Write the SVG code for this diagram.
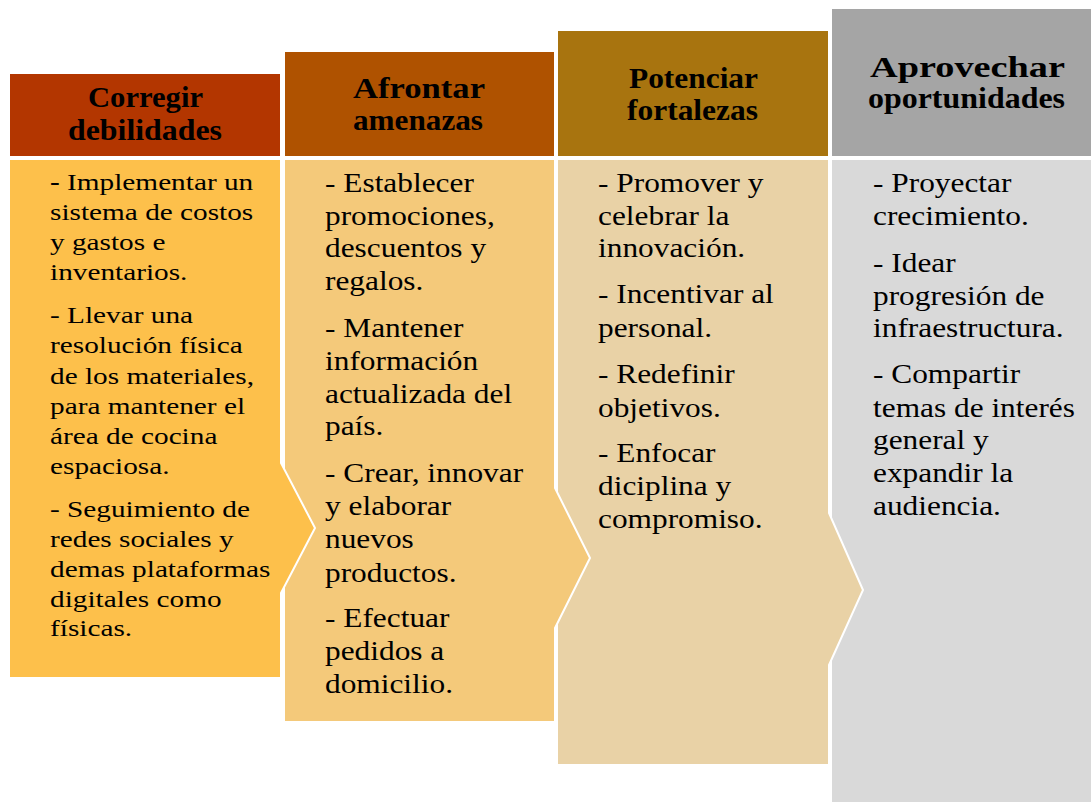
<svg xmlns="http://www.w3.org/2000/svg" width="1091" height="805" viewBox="0 0 1091 805">
<style>
.sh{stroke:#ffffff;stroke-width:2}
.hd{font-family:"Liberation Serif","Times New Roman",serif;font-weight:bold;font-size:30px;fill:#000}
.t1{font-family:"Liberation Serif","Times New Roman",serif;font-size:24px;fill:#000}
.t2{font-family:"Liberation Serif","Times New Roman",serif;font-size:28px;fill:#000}
</style>
<rect width="1091" height="805" fill="#ffffff"/>
<g id="col4">
<rect class="sh" x="831" y="8" width="272" height="149" fill="#A5A5A5"/>
<polygon class="sh" points="831,159 1103,159 1103,803 831,803" fill="#D9D9D9"/>
<text class="hd" x="870" y="77" textLength="195" lengthAdjust="spacingAndGlyphs">Aprovechar</text>
<text class="hd" x="868" y="108" textLength="197" lengthAdjust="spacingAndGlyphs">oportunidades</text>
</g>
<g id="col3">
<rect class="sh" x="557" y="30" width="272" height="127" fill="#A8740F"/>
<polygon class="sh" points="557,159 829,159 829,513 863,590 829,665 829,765 557,765" fill="#E9D2A6"/>
<text class="hd" x="629" y="88" textLength="129" lengthAdjust="spacingAndGlyphs">Potenciar</text>
<text class="hd" x="627" y="120" textLength="131" lengthAdjust="spacingAndGlyphs">fortalezas</text>
</g>
<g id="col2">
<rect class="sh" x="284" y="51" width="271" height="106" fill="#AF5200"/>
<polygon class="sh" points="284,159 555,159 555,488 590,558 555,628 555,722 284,722" fill="#F4C97A"/>
<text class="hd" x="353" y="98" textLength="132" lengthAdjust="spacingAndGlyphs">Afrontar</text>
<text class="hd" x="353" y="130" textLength="130" lengthAdjust="spacingAndGlyphs">amenazas</text>
</g>
<g id="col1">
<rect class="sh" x="9" y="73" width="272" height="84" fill="#B33600"/>
<polygon class="sh" points="9,159 281,159 281,463 315,528 281,593 281,678 9,678" fill="#FDC04B"/>
<text class="hd" x="88" y="107" textLength="115" lengthAdjust="spacingAndGlyphs">Corregir</text>
<text class="hd" x="68" y="140" textLength="154" lengthAdjust="spacingAndGlyphs">debilidades</text>
</g>
<g id="text1" transform="translate(50,0) scale(1.22,1)">
<text class="t1" x="0" y="190"><tspan font-weight="bold">-</tspan> Implementar un</text>
<text class="t1" x="0" y="220">sistema de costos</text>
<text class="t1" x="0" y="250">y gastos e</text>
<text class="t1" x="0" y="280">inventarios.</text>
<text class="t1" x="0" y="323">- Llevar una</text>
<text class="t1" x="0" y="353">resolución física</text>
<text class="t1" x="0" y="384">de los materiales,</text>
<text class="t1" x="0" y="414">para mantener el</text>
<text class="t1" x="0" y="444">área de cocina</text>
<text class="t1" x="0" y="474">espaciosa.</text>
<text class="t1" x="0" y="517">- Seguimiento de</text>
<text class="t1" x="0" y="547">redes sociales y</text>
<text class="t1" x="0" y="577">demas plataformas</text>
<text class="t1" x="0" y="607">digitales como</text>
<text class="t1" x="0" y="636">físicas.</text>
</g>
<g id="text2" transform="translate(325,0) scale(1.12,1)">
<text class="t2" x="0" y="192">- Establecer</text>
<text class="t2" x="0" y="225">promociones,</text>
<text class="t2" x="0" y="257">descuentos y</text>
<text class="t2" x="0" y="290">regalos.</text>
<text class="t2" x="0" y="337">- Mantener</text>
<text class="t2" x="0" y="370">información</text>
<text class="t2" x="0" y="403">actualizada del</text>
<text class="t2" x="0" y="435">país.</text>
<text class="t2" x="0" y="482">- Crear, innovar</text>
<text class="t2" x="0" y="515">y elaborar</text>
<text class="t2" x="0" y="548">nuevos</text>
<text class="t2" x="0" y="582">productos.</text>
<text class="t2" x="0" y="627">- Efectuar</text>
<text class="t2" x="0" y="660">pedidos a</text>
<text class="t2" x="0" y="693">domicilio.</text>
</g>
<g id="text3" transform="translate(598,0) scale(1.12,1)">
<text class="t2" x="0" y="192">- Promover y</text>
<text class="t2" x="0" y="225">celebrar la</text>
<text class="t2" x="0" y="257">innovación.</text>
<text class="t2" x="0" y="303">- Incentivar al</text>
<text class="t2" x="0" y="337">personal.</text>
<text class="t2" x="0" y="383">- Redefinir</text>
<text class="t2" x="0" y="417">objetivos.</text>
<text class="t2" x="0" y="462">- Enfocar</text>
<text class="t2" x="0" y="495">diciplina y</text>
<text class="t2" x="0" y="528">compromiso.</text>
</g>
<g id="text4" transform="translate(873,0) scale(1.12,1)">
<text class="t2" x="0" y="192">- Proyectar</text>
<text class="t2" x="0" y="225">crecimiento.</text>
<text class="t2" x="0" y="272">- Idear</text>
<text class="t2" x="0" y="305">progresión de</text>
<text class="t2" x="0" y="337">infraestructura.</text>
<text class="t2" x="0" y="383">- Compartir</text>
<text class="t2" x="0" y="417">temas de interés</text>
<text class="t2" x="0" y="449">general y</text>
<text class="t2" x="0" y="482">expandir la</text>
<text class="t2" x="0" y="515">audiencia.</text>
</g>
</svg>
